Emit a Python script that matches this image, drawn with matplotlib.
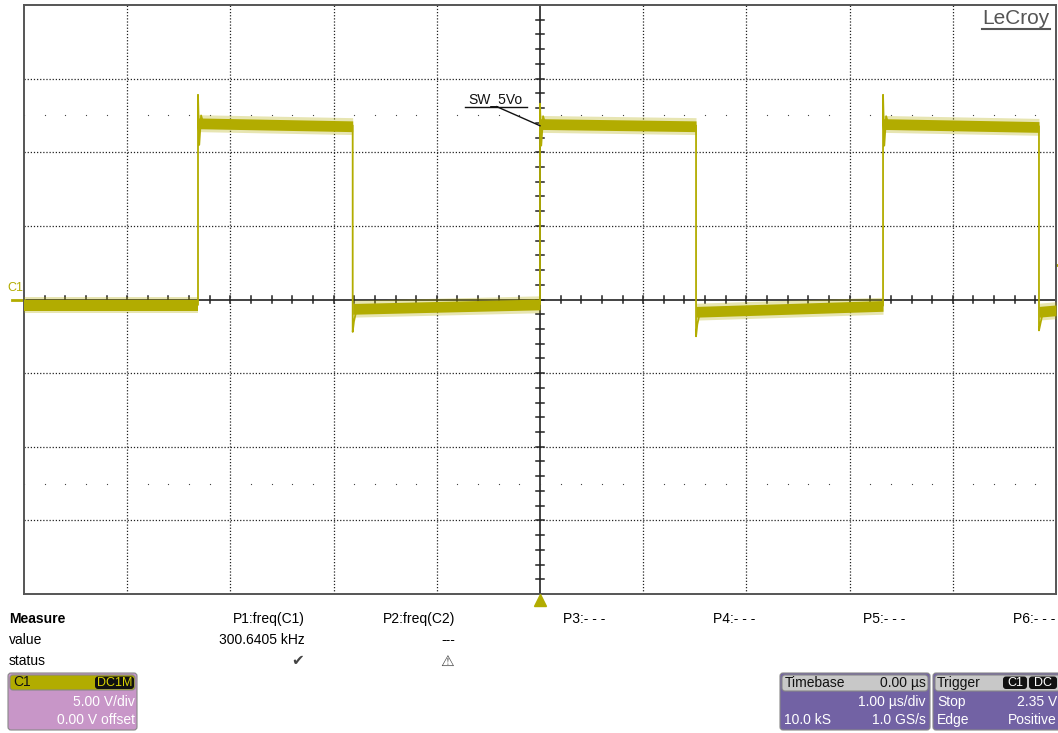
import numpy as np
import matplotlib
matplotlib.use('Agg')
import matplotlib.pyplot as plt
from matplotlib.patches import FancyBboxPatch

plt.rcParams['font.family'] = ['Liberation Sans', 'DejaVu Sans']

W, H = 1058, 733
TRACE = '#B2AC00'

# ── Data (time in us, volts) ─────────────────────────────────────────────────
rise_t    = [-3.314, 0.0, 3.324]
rise_peak = [13.9, 13.3, 13.9]
fall_t    = [-1.815, 1.512, 4.835]
fall_dip  = [-2.2, -2.5, -2.1]

high_t0 = [-3.314, 0.0, 3.324]
high_t1 = [-1.815, 1.512, 4.835]
high_v0 = [12.0, 11.95, 11.95]
high_v1 = [11.8, 11.8, 11.75]

low_t0 = [-5.0, -1.815, 1.512, 4.835]
low_t1 = [-3.314, 0.0, 3.324, 5.0]
low_v0 = [-0.35, -0.6, -0.8, -0.8]
low_v1 = [-0.35, -0.3, -0.4, -0.7]

trig_level = 2.35
meas_cols   = ['P1:freq(C1)', 'P2:freq(C2)', 'P3:- - -', 'P4:- - -', 'P5:- - -', 'P6:- - -']
meas_values = ['300.6405 kHz', '---', '', '', '', '']
meas_status = ['\u2714', '\u26A0', '', '', '', '']

fig = plt.figure(figsize=(W / 100, H / 100), dpi=100)
fig.patch.set_facecolor('white')

# ── Scope grid ────────────────────────────────────────────────────────────────
ax = fig.add_axes([24 / W, 1 - 594 / H, 1032 / W, 589 / H])
ax.set_xlim(-5, 5)
ax.set_ylim(-20, 20)
ax.set_xticks([]); ax.set_yticks([])
for s in ax.spines.values():
    s.set_color('#555555'); s.set_linewidth(1.4)

for x in range(-4, 5):
    if x != 0:
        ax.axvline(x, color='#222222', lw=0.9, ls=(0, (1, 1.5)), zorder=1)
for y in [-15, -10, -5, 5, 10, 15]:
    ax.axhline(y, color='#222222', lw=0.9, ls=(0, (1, 1.5)), zorder=1)
ax.axvline(0, color='#222222', lw=1.2, zorder=1)
ax.axhline(0, color='#222222', lw=1.2, zorder=1)

sub_x = np.arange(-5, 5.001, 0.2)
sub_y = np.arange(-20, 20.001, 1.0)
for x in sub_x:
    ax.plot([x, x], [-0.22, 0.22], color='#222222', lw=1.1, zorder=1)
for y in sub_y:
    ax.plot([-0.035, 0.035], [y, y], color='#222222', lw=1.1, zorder=1)
for y in [12.5, -12.5]:
    ax.plot(sub_x, [y] * len(sub_x), ls='none', marker='s', ms=0.8, mew=0,
            color='#444444', zorder=1)

# ── Trace ─────────────────────────────────────────────────────────────────────
def band(t0, t1, v0, v1):
    ax.fill_between([t0, t1], [v0 - 0.6, v1 - 0.6], [v0 + 0.55, v1 + 0.55],
                    color=TRACE, alpha=0.3, lw=0, zorder=3)
    ax.fill_between([t0, t1], [v0 - 0.4, v1 - 0.4], [v0 + 0.33, v1 + 0.33],
                    color=TRACE, lw=0, zorder=3)

for i in range(len(low_t0)):
    band(low_t0[i], low_t1[i], low_v0[i], low_v1[i])
for i in range(len(high_t0)):
    band(high_t0[i], high_t1[i], high_v0[i], high_v1[i])

for i, t in enumerate(rise_t):
    lo = low_v1[i]
    ax.plot([t, t, t + 0.012, t + 0.03, t + 0.05],
            [lo, rise_peak[i], high_v0[i] - 1.5, high_v0[i] + 0.5, high_v0[i]],
            color=TRACE, lw=1.3, zorder=4)
for i, t in enumerate(fall_t):
    hi = high_v1[i]
    ax.plot([t, t, t + 0.012, t + 0.04],
            [hi, fall_dip[i], low_v0[i + 1] - 0.9, low_v0[i + 1]],
            color=TRACE, lw=1.3, zorder=4)

# channel / trigger markers
ax.plot([-5.12, -5.0], [0, 0], color=TRACE, lw=2, clip_on=False)
ax.text(-5.16, 0.35, 'C1', color=TRACE, fontsize=9, ha='left', va='bottom')
ax.plot([5.0, 5.03], [trig_level, trig_level], color=TRACE, lw=2, clip_on=False)
ax.plot(0, -20.4, marker='^', ms=8, color=TRACE, clip_on=False, zorder=5)

# SW_5Vo label
ax.text(-0.43, 13.35, 'SW_5Vo', fontsize=10, ha='center', va='baseline', color='#111111', zorder=6)
ax.plot([-0.727, -0.126], [13.1, 13.1], color='#111111', lw=1, zorder=6)
ax.plot([-0.42, 0.0], [13.1, 11.8], color='#111111', lw=1, zorder=6)

# ── Overlay in pixel coordinates ──────────────────────────────────────────────
ov = fig.add_axes([0, 0, 1, 1])
ov.set_xlim(0, W); ov.set_ylim(H, 0)
ov.axis('off')
ov.patch.set_alpha(0)

ov.text(1050, 18, 'LeCroy', fontsize=15, color='#555555', ha='right', va='center')
ov.plot([982, 1050], [29, 29], color='#555555', lw=1.5)

ov.text(9, 619, 'Measure', fontsize=10, fontweight='bold', ha='left', va='center')
ov.text(9, 640, 'value', fontsize=10, ha='left', va='center')
ov.text(9, 661, 'status', fontsize=10, ha='left', va='center')
for i, name in enumerate(meas_cols):
    xr = 305 + 150 * i
    ov.text(xr, 619, name, fontsize=10, ha='right', va='center')
    if meas_values[i]:
        ov.text(xr, 640, meas_values[i], fontsize=10, ha='right', va='center')
    if meas_status[i]:
        ov.text(xr - 1, 661, meas_status[i], fontsize=11, ha='right', va='center',
                color='#444444', family=['DejaVu Sans'])


def box(x0, y0, w, h, color):
    ov.add_patch(FancyBboxPatch((x0, y0), w, h, boxstyle='round,pad=0,rounding_size=3',
                                fc=color, ec='#888888', lw=0.8))


def badge(x0, y0, w, h, txt, fg):
    ov.add_patch(FancyBboxPatch((x0, y0), w, h, boxstyle='round,pad=0,rounding_size=3',
                                fc='#111111', ec='none'))
    ov.text(x0 + w / 2, y0 + h / 2 + 0.5, txt, fontsize=9, color=fg, ha='center', va='center')


# C1 box
box(8, 673, 129, 57, '#C896C8')
box(10, 675, 125, 15, TRACE)
ov.text(13, 682.5, 'C1', fontsize=10, color='#111111', ha='left', va='center')
badge(95, 676.5, 39, 12.5, 'DC1M', '#D8D200')
ov.text(135, 702, '5.00 V/div', fontsize=10, color='white', ha='right', va='center')
ov.text(135, 720, '0.00 V offset', fontsize=10, color='white', ha='right', va='center')

# Timebase box
box(780, 673, 150, 57, '#7262A4')
box(782, 675, 146, 16, '#C8C8C8')
ov.text(785, 683, 'Timebase', fontsize=10, color='#111111', ha='left', va='center')
ov.text(926, 683, '0.00 \u00b5s', fontsize=10, color='#111111', ha='right', va='center')
ov.text(926, 702, '1.00 \u00b5s/div', fontsize=10, color='white', ha='right', va='center')
ov.text(784, 720, '10.0 kS', fontsize=10, color='white', ha='left', va='center')
ov.text(926, 720, '1.0 GS/s', fontsize=10, color='white', ha='right', va='center')

# Trigger box
box(933, 673, 130, 57, '#7262A4')
box(935, 675, 126, 16, '#C8C8C8')
ov.text(937, 683, 'Trigger', fontsize=10, color='#111111', ha='left', va='center')
badge(1003, 676.5, 24, 12.5, 'C1', 'white')
badge(1029, 676.5, 28, 12.5, 'DC', 'white')
ov.text(937, 702, 'Stop', fontsize=10, color='white', ha='left', va='center')
ov.text(1057, 702, '2.35 V', fontsize=10, color='white', ha='right', va='center')
ov.text(937, 720, 'Edge', fontsize=10, color='white', ha='left', va='center')
ov.text(1057, 720, 'Positive', fontsize=10, color='white', ha='right', va='center')

fig.savefig('out.png', dpi=100)
